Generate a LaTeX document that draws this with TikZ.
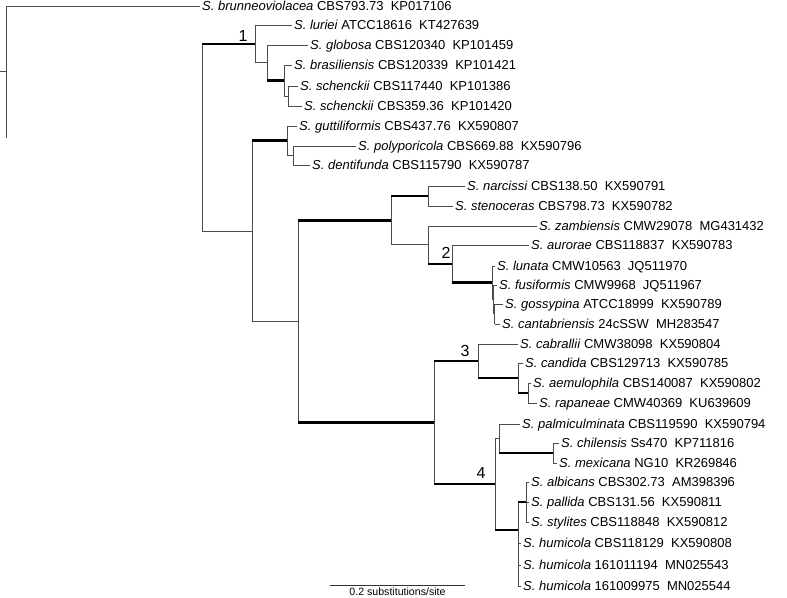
\documentclass[tikz,border=0pt]{standalone}
\usepackage{fontspec}
\setmainfont{Liberation Sans}
\usetikzlibrary{calc}
\tikzset{
  br/.style    = {draw=black!70, line width=0.9pt},
  bs/.style    = {draw=black, line width=2.8pt},
  leaf/.style  = {anchor=west, inner xsep=2pt, inner ysep=0pt, text height=9.3pt, text depth=0pt, font=\fontsize{13}{15}\selectfont},
  clade/.style = {font=\fontsize{16}{18}\selectfont, inner sep=0pt},
}

\begin{document}
\begin{tikzpicture}[x=1pt, y=-1pt]
  \useasboundingbox (0,0) rectangle (787,597);

  % internal nodes
  \coordinate (base) at (0,71.7);
  \coordinate (root) at (6,71.7);
  \coordinate (nA)   at (202,137.5);
  \coordinate (c1)   at (255,43.9);
  \coordinate (c1a)  at (267,62.75);
  \coordinate (c1b)  at (284,80.5);
  \coordinate (c1c)  at (288,96);
  \coordinate (nB)   at (252,231);
  \coordinate (g)    at (287,140.75);
  \coordinate (g2)   at (293,155.5);
  \coordinate (nD)   at (298,321.5);
  \coordinate (nE)   at (391,220.5);
  \coordinate (ns)   at (428,196);
  \coordinate (z)    at (428,244.9);
  \coordinate (c2)   at (452,263.9);
  \coordinate (l)    at (492,282.75);
  \coordinate (l2)   at (493.5,299.5);
  \coordinate (l3)   at (494.5,314);
  \coordinate (nF)   at (434,422.5);
  \coordinate (c3)   at (478,361);
  \coordinate (c3a)  at (518,378);
  \coordinate (c3b)  at (528,393);
  \coordinate (c4)   at (495,484);
  \coordinate (p)    at (499,438.5);
  \coordinate (cm)   at (553,453);
  \coordinate (h)    at (518,530);
  \coordinate (h2)   at (526,502);

  % leaves
  \node[leaf] (brun) at (200,6)   {\textit{S. brunneoviolacea} CBS793.73~~KP017106};
  \node[leaf] (lur)  at (292,25)  {\textit{S. luriei} ATCC18616~~KT427639};
  \node[leaf] (glob) at (308,45)  {\textit{S. globosa} CBS120340~~KP101459};
  \node[leaf] (bras) at (292,65)  {\textit{S. brasiliensis} CBS120339~~KP101421};
  \node[leaf] (sch1) at (298,86)  {\textit{S. schenckii} CBS117440~~KP101386};
  \node[leaf] (sch2) at (302,106) {\textit{S. schenckii} CBS359.36~~KP101420};
  \node[leaf] (gutt) at (297,126) {\textit{S. guttiliformis} CBS437.76~~KX590807};
  \node[leaf] (poly) at (356,146) {\textit{S. polyporicola} CBS669.88~~KX590796};
  \node[leaf] (dent) at (310,165) {\textit{S. dentifunda} CBS115790~~KX590787};
  \node[leaf] (narc) at (465,186) {\textit{S. narcissi} CBS138.50~~KX590791};
  \node[leaf] (sten) at (453,206) {\textit{S. stenoceras} CBS798.73~~KX590782};
  \node[leaf] (zamb) at (537,226) {\textit{S. zambiensis} CMW29078~~MG431432};
  \node[leaf] (aur)  at (529,245) {\textit{S. aurorae} CBS118837~~KX590783};
  \node[leaf] (lun)  at (495,266) {\textit{S. lunata} CMW10563~~JQ511970};
  \node[leaf] (fus)  at (497,285) {\textit{S. fusiformis} CMW9968~~JQ511967};
  \node[leaf] (goss) at (503,304) {\textit{S. gossypina} ATCC18999~~KX590789};
  \node[leaf] (cant) at (500,324) {\textit{S. cantabriensis} 24cSSW~~MH283547};
  \node[leaf] (cabr) at (518,344) {\textit{S. cabrallii} CMW38098~~KX590804};
  \node[leaf] (cand) at (523,363) {\textit{S. candida} CBS129713~~KX590785};
  \node[leaf] (aemu) at (531,383) {\textit{S. aemulophila} CBS140087~~KX590802};
  \node[leaf] (rapa) at (537,403) {\textit{S. rapaneae} CMW40369~~KU639609};
  \node[leaf] (palm) at (520,424) {\textit{S. palmiculminata} CBS119590~~KX590794};
  \node[leaf] (chil) at (559,443) {\textit{S. chilensis} Ss470~~KP711816};
  \node[leaf] (mexi) at (557,463) {\textit{S. mexicana} NG10~~KR269846};
  \node[leaf] (albi) at (529,482) {\textit{S. albicans} CBS302.73~~AM398396};
  \node[leaf] (pall) at (529,502) {\textit{S. pallida} CBS131.56~~KX590811};
  \node[leaf] (styl) at (529,522) {\textit{S. stylites} CBS118848~~KX590812};
  \node[leaf] (hum1) at (521,543) {\textit{S. humicola} CBS118129~~KX590808};
  \node[leaf] (hum2) at (521,565) {\textit{S. humicola} 161011194~~MN025543};
  \node[leaf] (hum3) at (521,586) {\textit{S. humicola} 161009975~~MN025544};

  % verticals
  \draw[br] (root |- brun.west) -- (root |- nA);
  \draw[br] (nA |- c1) -- (nA |- nB);
  \draw[br] (c1 |- lur.west) -- (c1 |- c1a);
  \draw[br] (c1a |- glob.west) -- (c1a |- c1b);
  \draw[br] (c1b |- bras.west) -- (c1b |- c1c);
  \draw[br] (c1c |- sch1.west) -- (c1c |- sch2.west);
  \draw[br] (nB |- g) -- (nB |- nD);
  \draw[br] (g |- gutt.west) -- (g |- g2);
  \draw[br] (g2 |- poly.west) -- (g2 |- dent.west);
  \draw[br] (nD |- nE) -- (nD |- nF);
  \draw[br] (nE |- ns) -- (nE |- z);
  \draw[br] (ns |- narc.west) -- (ns |- sten.west);
  \draw[br] (z |- zamb.west) -- (z |- c2);
  \draw[br] (c2 |- aur.west) -- (c2 |- l);
  \draw[br] (l |- lun.west) -- (l |- l2);
  \draw[br] (l2 |- fus.west) -- (l2 |- l3);
  \draw[br] (l3 |- goss.west) -- (l3 |- cant.west);
  \draw[br] (nF |- c3) -- (nF |- c4);
  \draw[br] (c3 |- cabr.west) -- (c3 |- c3a);
  \draw[br] (c3a |- cand.west) -- (c3a |- c3b);
  \draw[br] (c3b |- aemu.west) -- (c3b |- rapa.west);
  \draw[br] (c4 |- p) -- (c4 |- h);
  \draw[br] (p |- palm.west) -- (p |- cm);
  \draw[br] (cm |- chil.west) -- (cm |- mexi.west);
  \draw[br] (h |- h2) -- (h |- hum3.west);
  \draw[br] (h2 |- albi.west) -- (h2 |- styl.west);

  % stems
  \draw[br] (base) -- (root);
  \draw[br] (nA |- nB) -- (nB);
  \draw[bs] (nA |- c1) -- (c1);
  \draw[br] (c1 |- c1a) -- (c1a);
  \draw[bs] (c1a |- c1b) -- (c1b);
  \draw[br] (c1b |- c1c) -- (c1c);
  \draw[bs] (nB |- g) -- (g);
  \draw[br] (g |- g2) -- (g2);
  \draw[br] (nB |- nD) -- (nD);
  \draw[bs] (nD |- nE) -- (nE);
  \draw[bs] (nE |- ns) -- (ns);
  \draw[br] (nE |- z) -- (z);
  \draw[bs] (z |- c2) -- (c2);
  \draw[bs] (c2 |- l) -- (l);
  \draw[br] (l |- l2) -- (l2);
  \draw[br] (l2 |- l3) -- (l3);
  \draw[bs] (nD |- nF) -- (nF);
  \draw[bs] (nF |- c3) -- (c3);
  \draw[bs] (c3 |- c3a) -- (c3a);
  \draw[bs] (c3a |- c3b) -- (c3b);
  \draw[bs] (nF |- c4) -- (c4);
  \draw[br] (c4 |- p) -- (p);
  \draw[bs] (p |- cm) -- (cm);
  \draw[bs] (c4 |- h) -- (h);
  \draw[bs] (h |- h2) -- (h2);

  % tips
  \draw[br] (root |- brun.west) -- (brun.west);
  \draw[br] (c1 |- lur.west) -- (lur.west);
  \draw[br] (c1a |- glob.west) -- (glob.west);
  \draw[br] (c1b |- bras.west) -- (bras.west);
  \draw[br] (c1c |- sch1.west) -- (sch1.west);
  \draw[br] (c1c |- sch2.west) -- (sch2.west);
  \draw[br] (g |- gutt.west) -- (gutt.west);
  \draw[br] (g2 |- poly.west) -- (poly.west);
  \draw[br] (g2 |- dent.west) -- (dent.west);
  \draw[br] (ns |- narc.west) -- (narc.west);
  \draw[br] (ns |- sten.west) -- (sten.west);
  \draw[br] (z |- zamb.west) -- (zamb.west);
  \draw[br] (c2 |- aur.west) -- (aur.west);
  \draw[br] (l |- lun.west) -- (lun.west);
  \draw[br] (l2 |- fus.west) -- (fus.west);
  \draw[br] (l3 |- goss.west) -- (goss.west);
  \draw[br] (l3 |- cant.west) -- (cant.west);
  \draw[br] (c3 |- cabr.west) -- (cabr.west);
  \draw[br] (c3a |- cand.west) -- (cand.west);
  \draw[br] (c3b |- aemu.west) -- (aemu.west);
  \draw[br] (c3b |- rapa.west) -- (rapa.west);
  \draw[br] (p |- palm.west) -- (palm.west);
  \draw[br] (cm |- chil.west) -- (chil.west);
  \draw[br] (cm |- mexi.west) -- (mexi.west);
  \draw[br] (h2 |- albi.west) -- (albi.west);
  \draw[br] (h2 |- pall.west) -- (pall.west);
  \draw[br] (h2 |- styl.west) -- (styl.west);
  \draw[br] (h |- hum1.west) -- (hum1.west);
  \draw[br] (h |- hum2.west) -- (hum2.west);
  \draw[br] (h |- hum3.west) -- (hum3.west);

  % clade numbers
  \node[clade] (n1) at (243,36)  {1};
  \node[clade] (n2) at (446,253) {2};
  \node[clade] (n3) at (465,351) {3};
  \node[clade] (n4) at (481,473) {4};

  % scale bar
  \coordinate (sb1) at (330,585);
  \coordinate (sb2) at (465,585);
  \draw[draw=black!80, line width=0.9pt] (sb1) -- (sb2);
  \node[anchor=base, inner sep=0pt, font=\fontsize{10.6}{12}\selectfont] (sblab) at (397.5,595.5) {0.2 substitutions/site};
\end{tikzpicture}
\end{document}
